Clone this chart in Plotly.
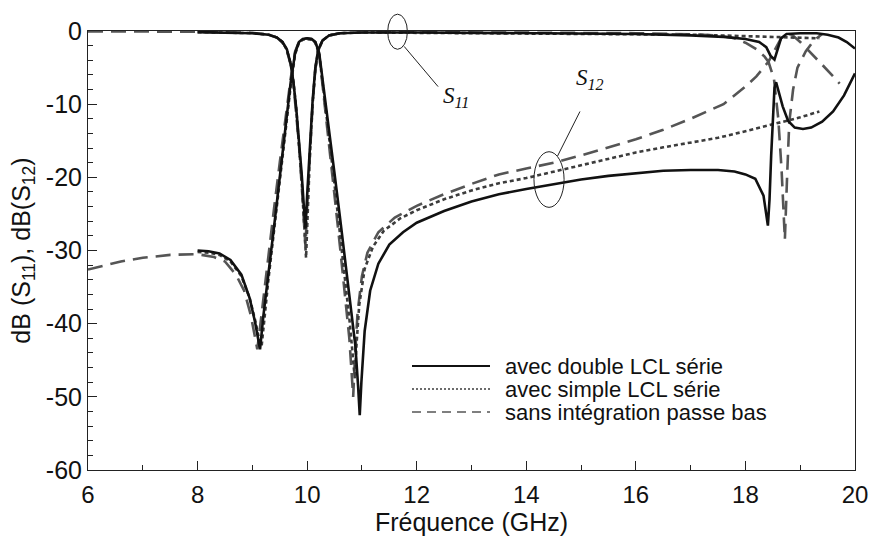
import plotly.graph_objects as go

# ---------------- data ----------------
# avec double LCL série
f_s12_double = [8.0, 8.2, 8.4, 8.6, 8.8, 8.95, 9.05, 9.10, 9.14, 9.2, 9.3, 9.4, 9.5, 9.6, 9.7, 9.78, 9.85, 9.92,
                10.0, 10.08, 10.15, 10.22, 10.3, 10.4, 10.5, 10.6, 10.7, 10.8, 10.88, 10.93, 10.96, 10.99, 11.05,
                11.15, 11.3, 11.5, 11.75, 12.0, 12.5, 13.0, 13.5, 14.0, 14.5, 15.0, 15.5, 16.0, 16.5, 17.0, 17.5,
                17.8, 18.0, 18.18, 18.33, 18.41, 18.44, 18.47, 18.5, 18.53, 18.56, 18.6, 18.68, 18.78, 18.9, 19.05,
                19.2, 19.4, 19.6, 19.8, 20.0]
s12_double = [-30.0, -30.1, -30.4, -31.3, -33.3, -36.5, -39.8, -41.8, -43.5, -39.0, -33.0, -26.5, -20.0, -13.5, -7.0,
              -3.0, -1.5, -1.1, -1.0, -1.1, -1.5, -3.0, -7.5, -13.5, -19.5, -25.5, -31.5, -37.5, -43.0, -48.5, -52.5,
              -48.0, -41.0, -35.5, -31.8, -29.2, -27.5, -26.2, -24.6, -23.3, -22.3, -21.6, -20.9, -20.3, -19.8, -19.4,
              -19.1, -19.0, -19.0, -19.2, -19.6, -20.2, -22.5, -26.6, -23.0, -17.0, -11.5, -7.8, -7.0, -8.2, -10.3,
              -12.3, -13.2, -13.4, -13.2, -12.4, -11.0, -8.8, -5.8]
f_s11_double = [8.0, 8.5, 9.0, 9.3, 9.45, 9.55, 9.63, 9.7, 9.75, 9.8, 9.85, 9.9, 9.94, 9.97, 10.0, 10.05, 10.1, 10.15,
                10.2, 10.28, 10.4, 10.6, 11.0, 12.0, 14.0, 16.0, 17.0, 17.6, 18.0, 18.25, 18.38, 18.46, 18.53, 18.58,
                18.65, 18.75, 19.0, 19.3, 19.5, 19.7, 19.85, 20.0]
s11_double = [-0.15, -0.2, -0.3, -0.5, -0.9, -1.5, -2.5, -4.5, -7.0, -10.5, -14.5, -19.5, -24.0, -27.0, -22.5, -15.5,
              -9.5, -5.0, -2.6, -1.3, -0.6, -0.3, -0.2, -0.2, -0.3, -0.4, -0.6, -0.8, -1.1, -1.5, -2.2, -3.4, -3.9,
              -2.6, -1.0, -0.4, -0.3, -0.3, -0.5, -0.9, -1.5, -2.4]

# avec simple LCL série
f_s12_simple = [8.0, 8.2, 8.4, 8.6, 8.8, 8.95, 9.05, 9.12, 9.17, 9.22, 9.3, 9.4, 9.5, 9.6, 9.7, 9.78, 9.85, 9.92,
                10.0, 10.08, 10.15, 10.22, 10.3, 10.4, 10.5, 10.6, 10.7, 10.78, 10.84, 10.87, 10.9, 10.95, 11.05,
                11.2, 11.4, 11.7, 12.0, 12.5, 13.0, 13.5, 14.0, 14.5, 15.0, 15.5, 16.0, 16.5, 17.0, 17.5, 18.0,
                18.5, 19.0, 19.35]
s12_simple = [-30.2, -30.3, -30.6, -31.5, -33.5, -36.5, -39.5, -42.0, -43.0, -39.0, -33.5, -27.0, -20.5, -14.0, -7.5,
              -3.2, -1.6, -1.2, -1.1, -1.2, -1.6, -3.2, -8.0, -14.5, -21.0, -27.5, -34.0, -40.0, -45.0, -47.5, -43.0,
              -37.5, -32.5, -29.5, -27.3, -25.6, -24.5, -23.0, -21.8, -20.8, -20.1, -19.2, -18.3, -17.4, -16.6, -15.9,
              -15.2, -14.6, -13.7, -12.8, -11.8, -11.0]
f_s11_simple = [8.0, 9.0, 9.3, 9.45, 9.55, 9.63, 9.7, 9.75, 9.8, 9.85, 9.9, 9.95, 9.98, 10.01, 10.05, 10.1, 10.15,
                10.2, 10.28, 10.4, 10.6, 11.0, 14.0, 16.0, 17.0, 18.0, 19.0, 19.35]
s11_simple = [-0.15, -0.3, -0.5, -0.9, -1.5, -2.6, -4.5, -7.0, -10.5, -15.0, -20.5, -27.0, -31.0, -25.0, -17.0,
              -10.0, -5.2, -2.7, -1.3, -0.6, -0.3, -0.2, -0.3, -0.4, -0.5, -0.7, -0.9, -1.0]

# sans intégration passe bas
f_s12_sans = [6.0, 6.3, 6.6, 7.0, 7.5, 8.0, 8.3, 8.5, 8.7, 8.85, 8.97, 9.04, 9.09, 9.14, 9.2, 9.3, 9.4, 9.5, 9.6,
              9.7, 9.78, 9.85, 9.92, 10.0, 10.08, 10.15, 10.22, 10.3, 10.4, 10.5, 10.6, 10.7, 10.77, 10.81, 10.84,
              10.87, 10.92, 11.0, 11.1, 11.3, 11.6, 12.0, 12.5, 13.0, 13.5, 14.0, 14.5, 15.0, 15.5, 16.0, 16.5,
              17.0, 17.6, 18.0, 18.2, 18.42, 18.52, 18.6, 18.66, 18.72, 18.76, 18.8, 18.87, 18.95, 19.1, 19.25,
              19.4]
s12_sans = [-32.6, -32.0, -31.5, -31.0, -30.6, -30.5, -30.9, -31.5, -33.3, -35.5, -38.8, -41.5, -43.5, -40.5, -36.5,
            -30.0, -24.0, -18.0, -12.0, -6.5, -2.8, -1.5, -1.1, -1.0, -1.1, -1.5, -3.2, -8.5, -15.5, -22.5, -29.5,
            -36.5, -42.0, -46.5, -50.0, -45.0, -38.5, -33.5, -30.3, -27.5, -25.5, -23.9, -22.3, -20.9, -19.6, -18.8,
            -18.0, -17.0, -15.9, -14.8, -13.5, -12.0, -10.0, -7.6, -6.2, -4.2, -6.5, -12.0, -19.0, -28.5, -20.0,
            -12.5, -8.0, -5.0, -2.8, -1.3, -0.4]
f_s11_sans = [6.0, 8.0, 9.0, 9.3, 9.45, 9.55, 9.63, 9.7, 9.75, 9.8, 9.85, 9.9, 9.94, 9.97, 10.0, 10.05, 10.1, 10.15,
              10.2, 10.28, 10.4, 10.6, 11.0, 12.0, 14.0, 16.0, 17.0, 17.5, 17.8, 18.0, 18.2, 18.35, 18.42, 18.55,
              18.65, 18.75, 18.85, 19.0, 19.2, 19.4, 19.6, 19.72]
s11_sans = [-0.05, -0.1, -0.25, -0.5, -0.9, -1.6, -2.7, -4.6, -7.2, -11.0, -15.5, -21.0, -26.0, -29.5, -24.0, -16.5,
            -10.0, -5.2, -2.7, -1.3, -0.6, -0.3, -0.2, -0.15, -0.2, -0.3, -0.45, -0.6, -1.0, -1.6, -2.5, -3.5, -4.2,
            -2.5, -1.0, -0.4, -0.5, -1.5, -3.0, -4.6, -6.2, -7.2]

legend_labels = ["avec double LCL série", "avec simple LCL série", "sans intégration passe bas"]
x_ticks = [6, 8, 10, 12, 14, 16, 18, 20]
y_ticks = [0, -10, -20, -30, -40, -50, -60]

# ---------------- styles ----------------
styles = [
    dict(color="#111111", width=2.6, dash="solid"),
    dict(color="#3c3c3c", width=2.6, dash="4px,3px"),
    dict(color="#555555", width=2.6, dash="15px,8px"),
]
series = [
    (f_s12_double, s12_double, f_s11_double, s11_double),
    (f_s12_simple, s12_simple, f_s11_simple, s11_simple),
    (f_s12_sans, s12_sans, f_s11_sans, s11_sans),
]

fig = go.Figure()
for idx in [2, 1, 0]:
    fa, sa, fb, sb = series[idx]
    for fx, sy in [(fa, sa), (fb, sb)]:
        fig.add_trace(go.Scatter(x=fx, y=sy, mode="lines", line=styles[idx],
                                 showlegend=False, hoverinfo="skip"))

FONT = "Liberation Sans, Arial, sans-serif"
SERIF = "Liberation Serif, Times New Roman, serif"

L, R, T, B = 88, 19, 31, 75
W, H = 874, 545
pw, ph = W - L - R, H - T - B
XR, YR = (6, 20), (-60, 0)


def px(x):
    return (x - L) / pw


def py(y):
    return (H - B - y) / ph


def dx(f):
    return (f - XR[0]) / (XR[1] - XR[0])


def dy(v):
    return (v - YR[0]) / (YR[1] - YR[0])


shapes = []
annotations = []
legend_rows = [366, 389, 412]
for i, (lab, ypix) in enumerate(zip(legend_labels, legend_rows)):
    st = styles[i]
    shapes.append(dict(type="line", xref="paper", yref="paper", x0=px(412), x1=px(490), y0=py(ypix), y1=py(ypix),
                       line=dict(color=st["color"], width=1.6 if i else 2,
                                 dash=["solid", "2px,2px", "9px,6px"][i])))
    annotations.append(dict(xref="paper", yref="paper", x=px(503), y=py(ypix), text=lab, showarrow=False,
                            xanchor="left", yanchor="middle", font=dict(family=FONT, size=22, color="#111")))

# S11 / S12 callouts (paper coords so they are not clipped by the frame)
shapes += [
    dict(type="circle", xref="paper", yref="paper", x0=dx(11.47), x1=dx(11.83), y0=dy(-2.5), y1=dy(2.3),
         line=dict(color="#222", width=1)),
    dict(type="line", xref="paper", yref="paper", x0=dx(11.77), y0=dy(-2.1), x1=dx(12.39), y1=dy(-7.6),
         line=dict(color="#222", width=1)),
    dict(type="circle", xref="paper", yref="paper", x0=dx(14.14), x1=dx(14.69), y0=dy(-24.1), y1=dy(-16.5),
         line=dict(color="#222", width=1)),
    dict(type="line", xref="paper", yref="paper", x0=dx(14.57), y0=dy(-17.1), x1=dx(14.98), y1=dy(-11.0),
         line=dict(color="#222", width=1)),
]
annotations += [
    dict(x=dx(12.45), y=dy(-9.0), xref="paper", yref="paper", text="<i>S</i><sub><i>11</i></sub>",
         showarrow=False, xanchor="left", yanchor="middle", font=dict(family=SERIF, size=23, color="#111")),
    dict(x=dx(14.88), y=dy(-6.6), xref="paper", yref="paper", text="<i>S</i><sub><i>12</i></sub>",
         showarrow=False, xanchor="left", yanchor="middle", font=dict(family=SERIF, size=23, color="#111")),
]

axis_common = dict(showline=True, linecolor="#222", linewidth=1, mirror=True, showgrid=False, zeroline=False,
                   ticks="inside", ticklen=9, tickcolor="#222", tickwidth=1, automargin=False)

fig.update_layout(
    width=W, height=H,
    margin=dict(l=L, r=R, t=T, b=B),
    paper_bgcolor="white", plot_bgcolor="white",
    shapes=shapes, annotations=annotations,
    xaxis=dict(range=list(XR), tickvals=x_ticks, ticktext=[str(v) for v in x_ticks],
               minor=dict(dtick=1, ticks="inside", ticklen=5, tickcolor="#222"),
               tickfont=dict(family=FONT, size=24, color="#111"), ticklabelstandoff=3,
               title=dict(text="Fréquence (GHz)", font=dict(family=FONT, size=25, color="#111"), standoff=6),
               **axis_common),
    yaxis=dict(range=list(YR), tickvals=y_ticks, ticktext=[str(v) for v in y_ticks],
               minor=dict(dtick=2, ticks="inside", ticklen=5, tickcolor="#222"),
               tickfont=dict(family=FONT, size=25, color="#111"),
               title=dict(text="dB (S<sub>11</sub>), dB(S<sub>12</sub>)",
                          font=dict(family=FONT, size=25, color="#111"), standoff=8),
               **axis_common),
)

# remove the browser's default 8px page margin so the figure sits at the window origin
fig.write_html("out.html", config={"displayModeBar": False, "staticPlot": True},
               post_script="document.body.style.margin='0';document.body.style.overflow='hidden';")
